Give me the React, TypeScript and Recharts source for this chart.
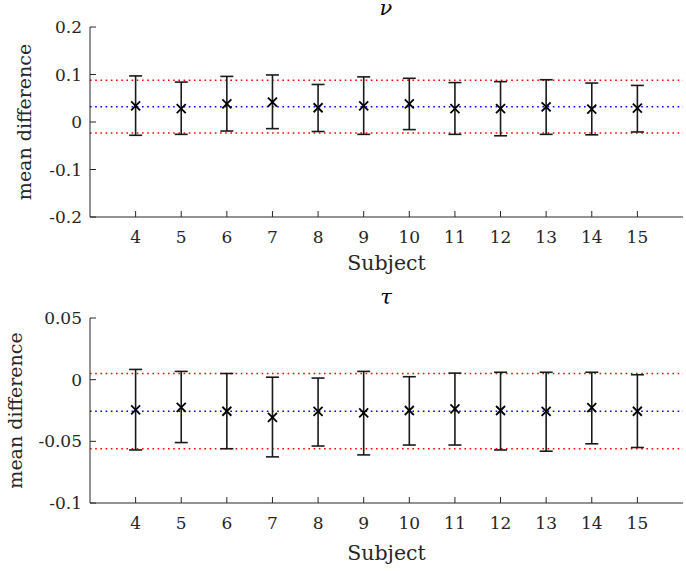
import React from 'react'
import { ComposedChart, Scatter, ErrorBar, XAxis, YAxis, ReferenceLine, Label } from 'recharts'

const subjects = [4, 5, 6, 7, 8, 9, 10, 11, 12, 13, 14, 15]

const nuMean = [0.034, 0.028, 0.038, 0.042, 0.03, 0.034, 0.038, 0.028, 0.028, 0.032, 0.027, 0.029]
const nuLower = [-0.028, -0.026, -0.019, -0.014, -0.02, -0.026, -0.016, -0.026, -0.029, -0.026, -0.027, -0.021]
const nuUpper = [0.097, 0.084, 0.096, 0.099, 0.079, 0.095, 0.092, 0.083, 0.085, 0.089, 0.082, 0.077]
const nuLimits = { upper: 0.088, mean: 0.032, lower: -0.023 }
const nuTicks = [-0.2, -0.1, 0, 0.1, 0.2]

const tauMean = [-0.0245, -0.0224, -0.0256, -0.0306, -0.0258, -0.027, -0.025, -0.0237, -0.025, -0.0258, -0.0226, -0.0256]
const tauLower = [-0.057, -0.051, -0.056, -0.0626, -0.0538, -0.061, -0.053, -0.053, -0.057, -0.058, -0.052, -0.055]
const tauUpper = [0.0083, 0.0067, 0.005, 0.002, 0.0013, 0.0067, 0.0024, 0.0053, 0.006, 0.006, 0.006, 0.004]
const tauLimits = { upper: 0.005, mean: -0.0256, lower: -0.056 }
const tauTicks = [-0.1, -0.05, 0, 0.05]

const xTicks = subjects

const AXIS = '#262626'
const FONT = 'DejaVu Serif'

const Cross = (props: any) => {
  const { cx, cy } = props
  const s = 4.5
  return (
    <g stroke="#000" strokeWidth={1.8}>
      <line x1={cx - s} y1={cy - s} x2={cx + s} y2={cy + s} />
      <line x1={cx - s} y1={cy + s} x2={cx + s} y2={cy - s} />
    </g>
  )
}

interface PanelProps {
  title: string
  means: number[]
  lower: number[]
  upper: number[]
  limits: { upper: number; mean: number; lower: number }
  yTicks: number[]
  height: number
  top: number
  titleY: number
  ylabelOffset: number
  xlabelOffset: number
}

function Panel({ title, means, lower, upper, limits, yTicks, height, top, titleY, ylabelOffset, xlabelOffset }: PanelProps) {
  const data = subjects.map((s, i) => ({ subject: s, mean: means[i], lower: lower[i], upper: upper[i] }))
  const plotH = height - top - 68
  return (
    <div style={{ position: 'relative', width: 686, height, fontFamily: FONT }}>
      <ComposedChart
        width={686}
        height={height}
        data={data}
        margin={{ top, right: 3, bottom: 0, left: 0 }}
      >
        <XAxis
          type="number"
          dataKey="subject"
          domain={[3, 16]}
          ticks={xTicks}
          height={height - top - plotH}
          tickSize={-6}
          tickMargin={20}
          stroke={AXIS}
          tick={{ fill: AXIS, fontSize: 17, style: { fontFamily: FONT } }}
          allowDataOverflow
        >
          <Label value="Subject" position="insideBottom" offset={xlabelOffset} style={{ fill: AXIS, fontSize: 20.5, fontFamily: FONT }} />
        </XAxis>
        <YAxis
          type="number"
          dataKey="mean"
          domain={[yTicks[0], yTicks[yTicks.length - 1]]}
          ticks={yTicks}
          width={90}
          tickSize={-6}
          tickMargin={14}
          stroke={AXIS}
          tick={{ fill: AXIS, fontSize: 17, style: { fontFamily: FONT } }}
          allowDataOverflow
        >
          <Label
            value="mean difference"
            angle={-90}
            position="insideLeft"
            offset={ylabelOffset}
            style={{ fill: AXIS, fontSize: 19, fontFamily: FONT, textAnchor: 'middle' }}
          />
        </YAxis>
        <ReferenceLine y={limits.upper} stroke="#ff0000" strokeWidth={1.6} strokeDasharray="1.6 3.6" />
        <ReferenceLine y={limits.lower} stroke="#ff0000" strokeWidth={1.6} strokeDasharray="1.6 3.6" />
        <ReferenceLine y={limits.mean} stroke="#0000ff" strokeWidth={1.6} strokeDasharray="1.6 3.6" />
        <Scatter dataKey="mean" shape={Cross} isAnimationActive={false}>
          <ErrorBar
            dataKey={(d: any) => [d.mean - d.lower, d.upper - d.mean]}
            direction="y"
            width={6.5}
            stroke="#1a1a1a"
            strokeWidth={1.6}
            isAnimationActive={false}
          />
        </Scatter>
      </ComposedChart>
      <svg width={686} height={height} style={{ position: 'absolute', left: 0, top: 0, pointerEvents: 'none' }}>
        <text x={386} y={titleY} textAnchor="middle" style={{ fontFamily: FONT, fontStyle: 'italic', fontSize: 21 }} fill="#000">
          {title}
        </text>
      </svg>
    </div>
  )
}

export default function App() {
  return (
    <div style={{ position: 'absolute', left: 0, top: 0, width: 686, height: 571, background: '#fff' }}>
      <Panel
        title="ν"
        means={nuMean}
        lower={nuLower}
        upper={nuUpper}
        limits={nuLimits}
        yTicks={nuTicks}
        height={285}
        top={27}
        titleY={15}
        ylabelOffset={24}
        xlabelOffset={15}
      />
      <Panel
        title="τ"
        means={tauMean}
        lower={tauLower}
        upper={tauUpper}
        limits={tauLimits}
        yTicks={tauTicks}
        height={286}
        top={33}
        titleY={19}
        ylabelOffset={15}
        xlabelOffset={11}
      />
    </div>
  )
}
